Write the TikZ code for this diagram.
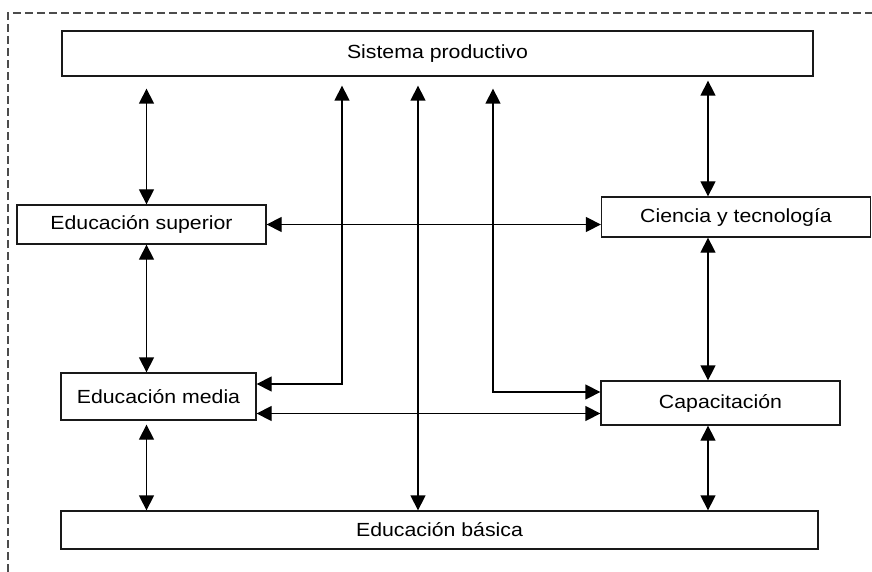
\documentclass[tikz,border=0pt]{standalone}
\usepackage{fontspec}
\setmainfont{Liberation Sans}
\usetikzlibrary{arrows.meta}
\newcommand{\wtxt}[1]{\scalebox{1.12}[1]{#1}}
\begin{document}
\begin{tikzpicture}[x=1pt,y=-1pt,
  box/.style={draw=black!90, line width=1.3pt, rectangle, inner sep=0pt,
    font=\fontsize{19}{21}\selectfont},
  arr/.style={line width=1.3pt,
    {Triangle[length=15pt,width=15pt]}-{Triangle[length=15pt,width=15pt]}},
  frame/.style={draw=black!70, line width=1.3pt, dash pattern=on 8pt off 4pt}]
\useasboundingbox (0,0) rectangle (872,572);
% dashed frame (continues beyond the picture to the right and below)
\draw[frame] (8,572) -- (8,13) -- (872,13);
% boxes
\node[box, minimum width=751pt, minimum height=45pt] (sp) at (437.5,53.5) {\wtxt{Sistema productivo}};
\node[box, minimum width=249pt, minimum height=39pt] (es) at (141.5,224.5) {\wtxt{Educación superior}};
\node[box, minimum width=269pt, minimum height=40pt] (ct) at (736,217) {\wtxt{Ciencia y tecnología}};
\node[box, minimum width=195pt, minimum height=47pt] (em) at (158.5,396.5) {\wtxt{Educación media}};
\node[box, minimum width=239pt, minimum height=44pt] (cap) at (720.5,403) {\wtxt{Capacitación}};
\node[box, minimum width=757pt, minimum height=38pt] (eb) at (439.5,530) {\wtxt{Educación básica}};
% x positions of vertical connectors
\coordinate (xa) at (146.5,0);
\coordinate (xc) at (342,0);
\coordinate (xd) at (418,0);
\coordinate (xe) at (493,0);
\coordinate (xf) at (708,0);
\coordinate (emhi) at ([yshift=12.5pt]em.east);
\coordinate (emlo) at ([yshift=-17pt]em.east);
\coordinate (caphi) at ([yshift=11pt]cap.west);
% connectors
\draw[arr, shorten <=12pt] (sp.south -| xa) -- (es.north -| xa);
\draw[arr] (es.south -| xa) -- (em.north -| xa);
\draw[arr, shorten <=4pt] (em.south -| xa) -- (eb.north -| xa);
\draw[arr, shorten >=9pt] (emhi) -| (sp.south -| xc);
\draw[arr, shorten <=9pt] (sp.south -| xd) -- (eb.north -| xd);
\draw[arr, shorten <=12pt] (sp.south -| xe) |- (caphi);
\draw[arr] (es.east) -- (es.east -| ct.west);
\draw[arr] (emlo) -- (emlo -| cap.west);
\draw[arr, shorten <=4pt] (sp.south -| xf) -- (ct.north -| xf);
\draw[arr] (ct.south -| xf) -- (cap.north -| xf);
\draw[arr] (cap.south -| xf) -- (eb.north -| xf);
\end{tikzpicture}
\end{document}
